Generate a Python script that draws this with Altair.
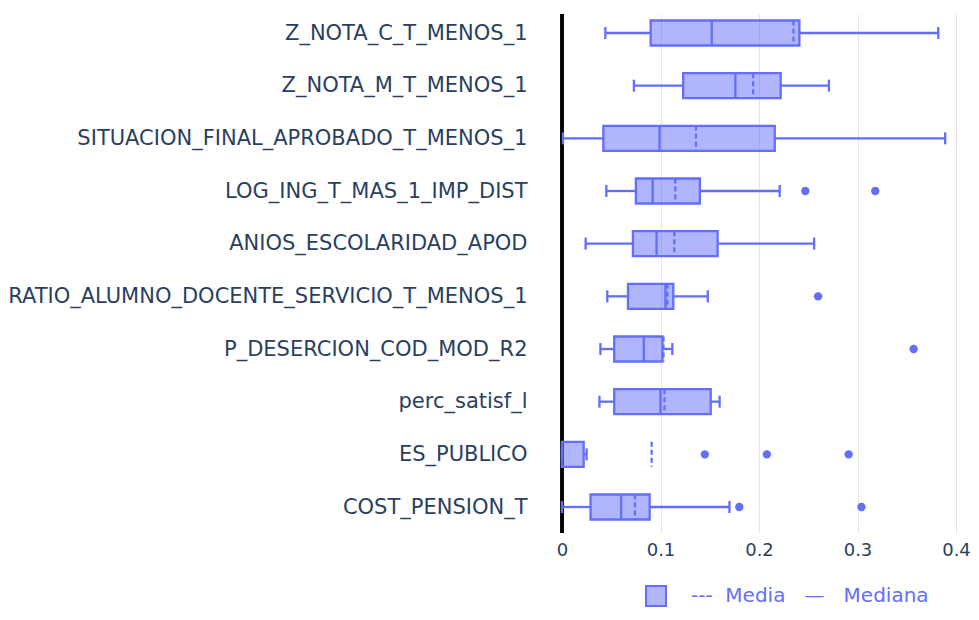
import json
import altair as alt
import pandas as pd

# ---- data ----
variables = [
    "Z_NOTA_C_T_MENOS_1",
    "Z_NOTA_M_T_MENOS_1",
    "SITUACION_FINAL_APROBADO_T_MENOS_1",
    "LOG_ING_T_MAS_1_IMP_DIST",
    "ANIOS_ESCOLARIDAD_APOD",
    "RATIO_ALUMNO_DOCENTE_SERVICIO_T_MENOS_1",
    "P_DESERCION_COD_MOD_R2",
    "perc_satisf_l",
    "ES_PUBLICO",
    "COST_PENSION_T",
]
whisker_low = [0.044, 0.073, 0.001, 0.045, 0.024, 0.046, 0.039, 0.038, 0.000, 0.000]
q1 = [0.090, 0.123, 0.042, 0.075, 0.072, 0.067, 0.053, 0.053, 0.000, 0.029]
median = [0.152, 0.176, 0.099, 0.092, 0.096, 0.105, 0.083, 0.100, 0.000, 0.060]
mean = [0.235, 0.194, 0.136, 0.115, 0.114, 0.107, 0.103, 0.104, 0.091, 0.074]
q3 = [0.241, 0.222, 0.216, 0.140, 0.158, 0.113, 0.102, 0.151, 0.022, 0.089]
whisker_high = [0.382, 0.271, 0.389, 0.221, 0.256, 0.148, 0.112, 0.160, 0.025, 0.170]

outlier_variable = [
    "LOG_ING_T_MAS_1_IMP_DIST", "LOG_ING_T_MAS_1_IMP_DIST",
    "RATIO_ALUMNO_DOCENTE_SERVICIO_T_MENOS_1",
    "P_DESERCION_COD_MOD_R2",
    "ES_PUBLICO", "ES_PUBLICO", "ES_PUBLICO",
    "COST_PENSION_T", "COST_PENSION_T",
]
outlier_value = [0.247, 0.318, 0.260, 0.357, 0.145, 0.208, 0.291, 0.180, 0.304]

x_ticks = [0, 0.1, 0.2, 0.3, 0.4]
legend_label = "---\u00a0\u00a0Media\u00a0\u00a0\u00a0—\u00a0\u00a0\u00a0Mediana"

# ---- tables ----
n = len(variables)
stats = pd.DataFrame({
    "variable": variables,
    "idx": list(range(n)),
    "lo": whisker_low, "q1": q1, "med": median, "mean": mean,
    "q3": q3, "hi": whisker_high,
    "serie": [legend_label] * n,
})
pos = {v: i for i, v in enumerate(variables)}
outliers = pd.DataFrame({
    "variable": outlier_variable,
    "valor": outlier_value,
    "idx": [pos[v] for v in outlier_variable],
})

# ---- layout ----
W, H = 411, 519
PX_PER_UNIT = 985.0
STEP = 52.667          # pixels per category row
TOP = 19.0             # pixel of first row centre
BLUE = "#636efa"
TXT = "#2a3f5f"
FONT = "DejaVu Sans"

y_dom = [-TOP / STEP, (n - 1) + (H - (TOP + (n - 1) * STEP)) / STEP]
x_dom = [-2 / PX_PER_UNIT, (W - 2) / PX_PER_UNIT]
BOX = 12.5 / STEP
CAP = 6.0 / STEP

x_scale = alt.Scale(domain=x_dom, nice=False, zero=False)
y_scale = alt.Scale(domain=y_dom, reverse=True, nice=False, zero=False)

x_axis = alt.Axis(values=x_ticks, format="~g", grid=True, gridColor="#e4e4e4",
                  gridWidth=1, ticks=False, domain=False, labelFont=FONT,
                  labelFontSize=18, labelColor=TXT, labelPadding=8, title=None)
y_axis = alt.Axis(values=list(range(n)), labelExpr=f"{json.dumps(variables)}[datum.value]",
                  grid=False, ticks=False, domain=False, labelFont=FONT,
                  labelFontSize=21, labelColor=TXT, labelPadding=33, title=None,
                  labelBaseline="middle", labelLimit=0)


def X(field):
    return alt.X(field, type="quantitative", scale=x_scale, axis=x_axis)


def Y(field):
    return alt.Y(field, type="quantitative", scale=y_scale, axis=y_axis)


base = alt.Chart(stats).transform_calculate(
    ylo=f"datum.idx - {BOX}", yhi=f"datum.idx + {BOX}",
    clo=f"datum.idx - {CAP}", chi=f"datum.idx + {CAP}",
)

SW = 2.3

zero_line = alt.Chart(stats).mark_rule(color="black", strokeWidth=2.5).encode(
    x=alt.X(datum=0, type="quantitative", scale=x_scale, axis=x_axis),
)

whisk_l = base.mark_rule(color=BLUE, strokeWidth=SW).encode(x=X("lo"), x2="q1", y=Y("idx"))
whisk_r = base.mark_rule(color=BLUE, strokeWidth=SW).encode(x=X("q3"), x2="hi", y=Y("idx"))
cap_l = base.mark_rule(color=BLUE, strokeWidth=SW).encode(x=X("lo"), y=Y("clo"), y2="chi")
cap_r = base.mark_rule(color=BLUE, strokeWidth=SW).encode(x=X("hi"), y=Y("clo"), y2="chi")

box = base.mark_rect(stroke=BLUE, strokeWidth=SW).encode(
    x=X("q1"), x2="q3", y=Y("ylo"), y2="yhi",
    fill=alt.Fill("serie:N", scale=alt.Scale(range=["rgba(99,110,250,0.5)"]),
                  legend=alt.Legend(title=None, orient="none", legendX=85, legendY=571,
                                    symbolType="square", symbolSize=400,
                                    symbolStrokeColor=BLUE, symbolStrokeWidth=2,
                                    labelFont=FONT, labelFontSize=20, labelColor=BLUE,
                                    labelOffset=24, labelLimit=0, padding=0)),
)

med_line = base.mark_rule(color=BLUE, strokeWidth=SW).encode(x=X("med"), y=Y("ylo"), y2="yhi")
mean_line = base.mark_rule(color=BLUE, strokeWidth=SW, strokeDash=[5, 3]).encode(
    x=X("mean"), y=Y("ylo"), y2="yhi")

points = alt.Chart(outliers).mark_circle(size=70, color=BLUE, opacity=1).encode(
    x=X("valor"), y=Y("idx"))

chart = alt.layer(
    zero_line, whisk_l, whisk_r, cap_l, cap_r, box, med_line, mean_line, points
).properties(
    width=W, height=H,
    autosize=alt.AutoSizeParams(type="none"),
    padding={"left": 552, "top": 6, "right": 0, "bottom": 79},
).configure_view(stroke=None)

chart.save("out.html", embed_options={"renderer": "svg", "actions": False})
